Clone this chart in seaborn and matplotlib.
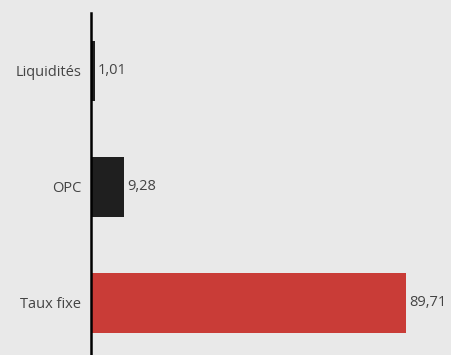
import matplotlib
matplotlib.use("Agg")
import matplotlib.pyplot as plt
import seaborn as sns
import pandas as pd

categories = ["Liquidités", "OPC", "Taux fixe"]
values = [1.01, 9.28, 89.71]
labels = ["1,01", "9,28", "89,71"]
colors = ["#1f1f1f", "#1f1f1f", "#c93c37"]

sns.set_theme(style="white")
plt.rcParams['font.family'] = ['Open Sans', 'DejaVu Sans']

bg = "#e9e9e9"
fig = plt.figure(figsize=(4.51, 3.55), dpi=100, facecolor=bg)
ax = fig.add_axes([91/451, 0, 360/451, 342/355])
ax.set_facecolor(bg)

df = pd.DataFrame({"cat": categories, "val": values})
sns.barplot(data=df, y="cat", x="val", hue="cat", palette=colors, legend=False,
            orient="h", width=0.52, ax=ax, saturation=1, linewidth=0)

ax.set_xlim(0, 102.5)
ax.set_ylim(2.45, -0.5)
for i, (v, lab) in enumerate(zip(values, labels)):
    ax.text(v + 0.9, i, lab, va="center", ha="left", fontsize=10.5, color="#444444")

for s in ["top", "right", "bottom"]:
    ax.spines[s].set_visible(False)
ax.spines["left"].set_color("black")
ax.spines["left"].set_linewidth(1.8)
ax.set_xticks([])
ax.tick_params(axis="y", length=0, pad=7, labelsize=10.5, labelcolor="#444444")
ax.set_xlabel("")
ax.set_ylabel("")

fig.savefig("out.png", dpi=100, facecolor=bg)
